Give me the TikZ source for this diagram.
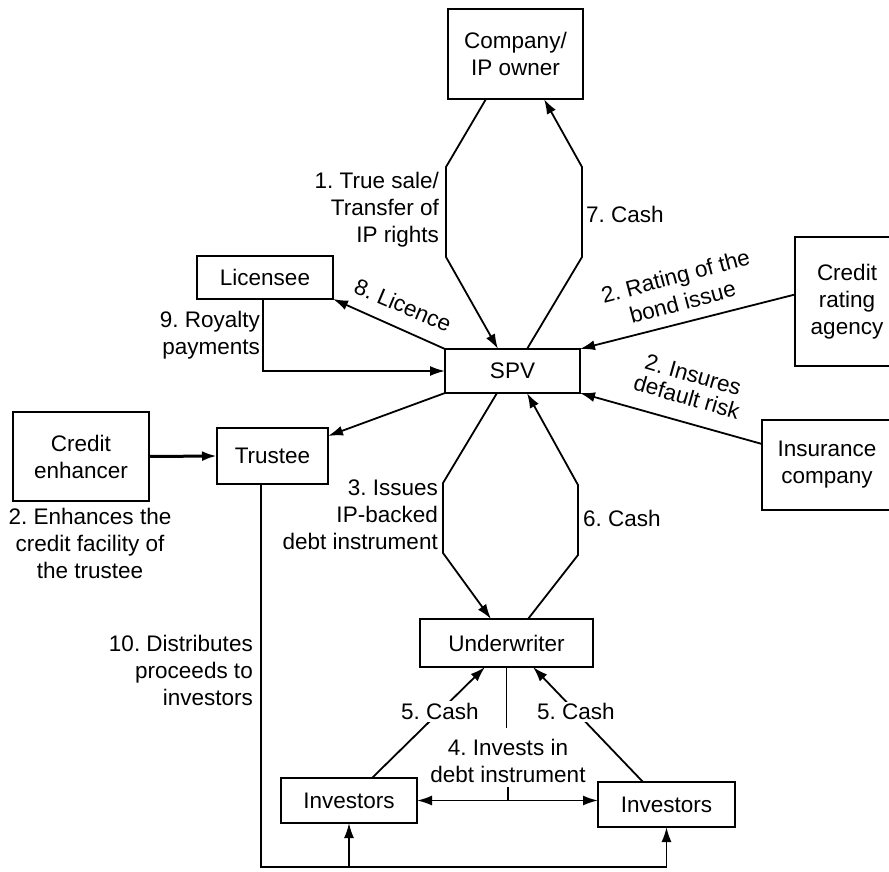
\documentclass[tikz,border=0pt]{standalone}
\usepackage{fontspec}
\setmainfont{Liberation Sans}
\usetikzlibrary{arrows.meta,calc}
\begin{document}
\frenchspacing
\begin{tikzpicture}[x=1pt,y=-1pt,
  box/.style={draw,line width=2pt,inner sep=0pt,outer sep=0pt,align=center},
  lbl/.style={align=center,inner sep=0pt},
  conn/.style={line width=1.8pt},
  tip/.tip={Latex[length=15pt,width=10pt]},
  arr/.style={conn,-tip},
  font=\fontsize{22.5}{27}\selectfont]
\useasboundingbox (0,0) rectangle (889,872);
\clip (0,0) rectangle (889,872);

% parties
\node[box,minimum width=135pt,minimum height=90pt] (comp) at (515.5,54) {Company/\\IP owner};
\node[box,minimum width=135pt,minimum height=44pt] (spv) at (512.5,371) {SPV};
\node[box,minimum width=136pt,minimum height=43pt] (lic) at (265,277.5) {Licensee};
\node[box,minimum width=104pt,minimum height=129pt] (cra) at (847,301.5) {Credit\\rating\\agency};
\node[box,minimum width=130pt,minimum height=90pt] (ins) at (827,465) {Insurance\\company};
\node[box,minimum width=136pt,minimum height=89pt] (ce) at (81,456.5) {Credit\\enhancer};
\node[box,minimum width=111pt,minimum height=56pt] (tru) at (272.5,456) {Trustee};
\node[box,minimum width=173pt,minimum height=48pt] (und) at (506.5,643) {Underwriter};
\node[box,minimum width=136pt,minimum height=45pt] (invl) at (349,800.5) {Investors};
\node[box,minimum width=137pt,minimum height=45pt] (invr) at (666.5,804.5) {Investors};

% company <-> SPV
\draw[arr] ($(comp.south west)+(38,0)$) -- (446,167) -- (446,257) -- ($(spv.north west)+(53,0)$);
\draw[arr] ($(spv.north west)+(82,0)$) -- (582,257) -- (582,167) -- ($(comp.south west)+(96,0)$);
% SPV <-> underwriter
\draw[arr] ($(spv.south west)+(52,0)$) -- (443,483) -- (443,553) -- ($(und.north west)+(71,0)$);
\draw[arr] ($(und.north west)+(108,0)$) -- (578,555) -- (578,485) -- ($(spv.south west)+(82,0)$);
% licensee
\draw[arr] (spv.north west) -- (lic.south east);
\draw[arr] ($(lic.south west)+(66,0)$) |- (spv.west);
% rating agency and insurer
\draw[arr] ($(cra.west)+(0,-7)$) -- (spv.north east);
\draw[arr] ($(ins.north west)+(0,24)$) -- (spv.south east);
% trustee
\draw[arr] (spv.south west) -- ($(tru.north east)+(0,8)$);
\draw[conn,line width=3pt,-tip] (ce.east) -- (tru.west);
\draw[conn] ($(tru.south west)+(44,0)$) |- ($(invr.south)+(0,40)$);
\draw[arr] ($(invl.south)+(0,44)$) -- (invl.south);
\draw[arr] ($(invr.south)+(0,40)$) -- (invr.south);

% underwriter <-> investors
\draw[conn] (und.south) -- ++(0,61);
\node[lbl] (l4) at (508,761) {4. Invests in\\debt instrument};
\draw[conn] ($(und.south)+(1.5,120)$) -- ++(0,14);
\draw[conn,tip-tip] (invl.east) -- (invl.east -| invr.west);
\draw[arr] ($(invl.north west)+(91,0)$) -- node[pos=0.6,fill=white,inner sep=2pt] {5. Cash} ($(und.south west)+(65,0)$);
\draw[arr] ($(invr.north west)+(45,0)$) -- node[pos=0.61,fill=white,inner sep=2pt] {5. Cash} ($(und.south west)+(113,0)$);

% flow labels
\node[lbl,anchor=east,align=right] at (439,210) {1. True sale/\\Transfer of\\IP rights};
\node[lbl,anchor=west] at (586,214) {7. Cash};
\node[lbl,anchor=east,align=right] at (438,515) {3. Issues\\IP-backed\\debt instrument};
\node[lbl,anchor=west] at (583,518) {6. Cash};
\node[lbl,anchor=east,align=right] at (253,670) {10. Distributes\\proceeds to\\investors};
\node[lbl,anchor=east,align=right] at (260,335) {9. Royalty\\payments};
\node[lbl] at (90,543) {2. Enhances the\\credit facility of\\the trustee};
\node[lbl,rotate=-23] at (403,305) {8. Licence};
\node[lbl,rotate=15] at (679,289) {2. Rating of the\\bond issue};
\node[lbl,rotate=-16,font=\fontsize{22.5}{23}\selectfont] at (690,386) {2. Insures\\default risk};
\end{tikzpicture}
\end{document}
